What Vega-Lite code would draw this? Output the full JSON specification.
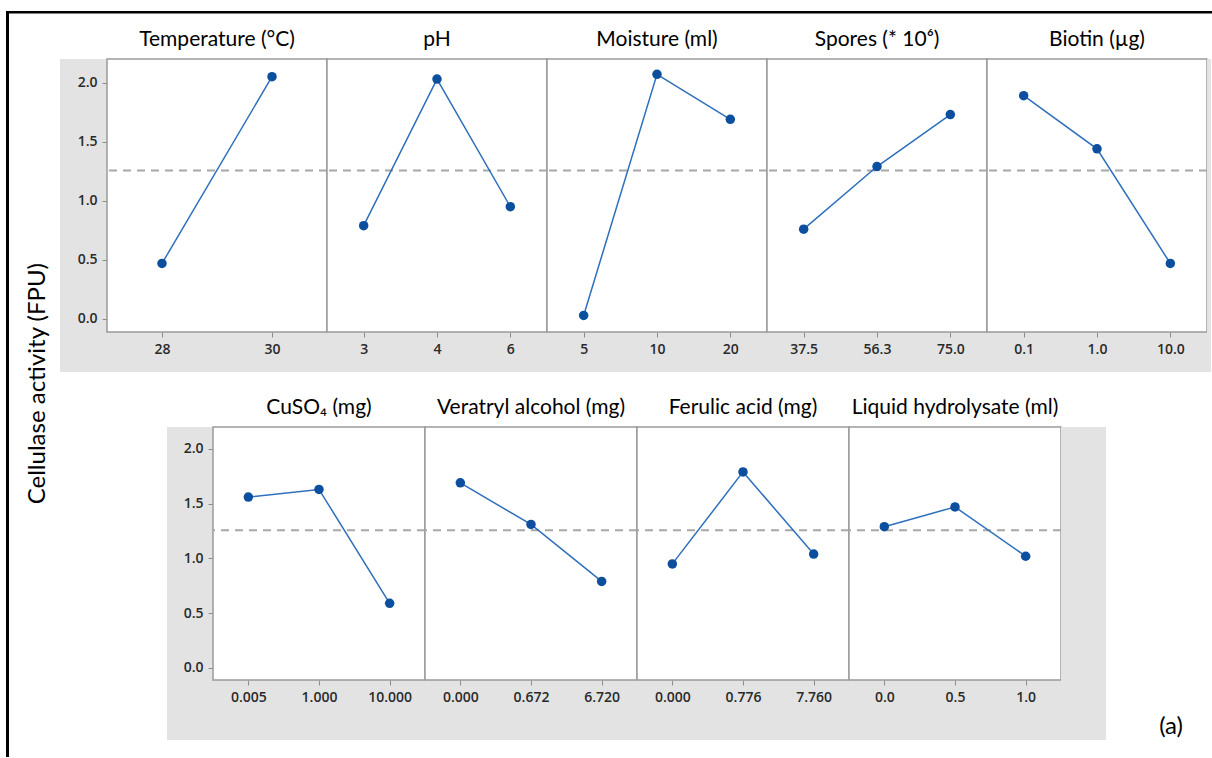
{
  "$schema": "https://vega.github.io/schema/vega-lite/v6.json",
  "background": "white",
  "padding": {"left": 6, "top": 11, "right": 0, "bottom": 0},
  "spacing": 0,
  "datasets": {
    "blank": [{}],
    "mean": [{"mean": 1.257}],
    "tag": [{"label": "(a)"}],
    "effects": [
      {"factor": "Temperature", "level": "28", "value": 0.47},
      {"factor": "Temperature", "level": "30", "value": 2.05},
      {"factor": "pH", "level": "3", "value": 0.79},
      {"factor": "pH", "level": "4", "value": 2.03},
      {"factor": "pH", "level": "6", "value": 0.95},
      {"factor": "Moisture", "level": "5", "value": 0.03},
      {"factor": "Moisture", "level": "10", "value": 2.07},
      {"factor": "Moisture", "level": "20", "value": 1.69},
      {"factor": "Spores", "level": "37.5", "value": 0.76},
      {"factor": "Spores", "level": "56.3", "value": 1.29},
      {"factor": "Spores", "level": "75.0", "value": 1.73},
      {"factor": "Biotin", "level": "0.1", "value": 1.89},
      {"factor": "Biotin", "level": "1.0", "value": 1.44},
      {"factor": "Biotin", "level": "10.0", "value": 0.47},
      {"factor": "CuSO4", "level": "0.005", "value": 1.56},
      {"factor": "CuSO4", "level": "1.000", "value": 1.63},
      {"factor": "CuSO4", "level": "10.000", "value": 0.59},
      {"factor": "Veratryl", "level": "0.000", "value": 1.69},
      {"factor": "Veratryl", "level": "0.672", "value": 1.31},
      {"factor": "Veratryl", "level": "6.720", "value": 0.79},
      {"factor": "Ferulic", "level": "0.000", "value": 0.95},
      {"factor": "Ferulic", "level": "0.776", "value": 1.79},
      {"factor": "Ferulic", "level": "7.760", "value": 1.04},
      {"factor": "Liquid", "level": "0.0", "value": 1.29},
      {"factor": "Liquid", "level": "0.5", "value": 1.47},
      {"factor": "Liquid", "level": "1.0", "value": 1.02}
    ]
  },
  "hconcat": [
    {"width": 3, "height": 746, "data": {"name": "blank"}, "mark": {"type": "rect", "fill": "black"}, "encoding": {}},
    {
      "spacing": 15,
      "vconcat": [
        {"width": 1203, "height": 2.5, "data": {"name": "blank"}, "mark": {"type": "rect", "fill": "black"}, "encoding": {}},
        {
          "spacing": 0,
          "hconcat": [
            {"width": 16, "height": 10, "data": {"name": "blank"}, "mark": {"type": "rect", "opacity": 0}, "encoding": {}},
            {
              "title": {"text": "Cellulase activity (FPU)", "orient": "left", "anchor": "middle", "fontSize": 24, "font": "Lato", "fontWeight": "normal", "color": "black", "offset": 10, "dx": 1},
              "spacing": 25,
              "vconcat": [
                {
                  "bounds": "flush",
                  "spacing": 0,
                  "hconcat": [
                    {"width": 47, "height": 313, "data": {"name": "blank"}, "mark": {"type": "rect", "fill": "#e3e3e3"}, "encoding": {}},
                    {
                      "width": 220, "height": 313,
                      "view": {"fill": "#e3e3e3", "stroke": null},
                      "title": {"text": "Temperature (°C)"},
                      "layer": [
                        {"data": {"name": "blank"}, "mark": {"type": "rect", "fill": "white", "stroke": "#9a9a9a", "strokeWidth": 1.5},
                         "encoding": {"y": {"datum": -0.11, "type": "quantitative", "scale": {"domain": [-0.4485, 2.2], "nice": false, "zero": false}, "axis": {"title": null, "values": [0, 0.5, 1, 1.5, 2], "format": ".1f", "tickSize": 5, "labelPadding": 5}}, "y2": {"datum": 2.2}}},
                        {"data": {"name": "mean"}, "mark": {"type": "rule", "color": "#a8a8a8", "strokeWidth": 2, "strokeDash": [8, 6]},
                         "encoding": {"y": {"field": "mean", "type": "quantitative", "scale": {"domain": [-0.4485, 2.2], "nice": false, "zero": false}, "axis": {"title": null, "values": [0, 0.5, 1, 1.5, 2], "format": ".1f", "tickSize": 5, "labelPadding": 5}}}},
                        {"data": {"name": "effects"}, "transform": [{"filter": "datum.factor === 'Temperature'"}],
                         "mark": {"type": "line", "color": "#2d6fbd", "strokeWidth": 1.5, "point": {"filled": true, "size": 90, "color": "#0b4f9e"}},
                         "encoding": {
                           "x": {"field": "level", "type": "ordinal", "sort": null, "scale": {"type": "point", "padding": 0.5}, "axis": {"title": null, "labelAngle": 0, "offset": -40, "tickSize": 5, "labelPadding": 5}},
                           "y": {"field": "value", "type": "quantitative", "scale": {"domain": [-0.4485, 2.2], "nice": false, "zero": false}, "axis": {"title": null, "values": [0, 0.5, 1, 1.5, 2], "format": ".1f", "tickSize": 5, "labelPadding": 5}}}}
                      ]
                    },
                    {
                      "width": 220, "height": 313,
                      "view": {"fill": "#e3e3e3", "stroke": null},
                      "title": {"text": "pH"},
                      "layer": [
                        {"data": {"name": "blank"}, "mark": {"type": "rect", "fill": "white", "stroke": "#9a9a9a", "strokeWidth": 1.5},
                         "encoding": {"y": {"datum": -0.11, "type": "quantitative", "scale": {"domain": [-0.4485, 2.2], "nice": false, "zero": false}, "axis": null}, "y2": {"datum": 2.2}}},
                        {"data": {"name": "mean"}, "mark": {"type": "rule", "color": "#a8a8a8", "strokeWidth": 2, "strokeDash": [8, 6]},
                         "encoding": {"y": {"field": "mean", "type": "quantitative", "scale": {"domain": [-0.4485, 2.2], "nice": false, "zero": false}, "axis": null}}},
                        {"data": {"name": "effects"}, "transform": [{"filter": "datum.factor === 'pH'"}],
                         "mark": {"type": "line", "color": "#2d6fbd", "strokeWidth": 1.5, "point": {"filled": true, "size": 90, "color": "#0b4f9e"}},
                         "encoding": {
                           "x": {"field": "level", "type": "ordinal", "sort": null, "scale": {"type": "point", "padding": 0.5}, "axis": {"title": null, "labelAngle": 0, "offset": -40, "tickSize": 5, "labelPadding": 5}},
                           "y": {"field": "value", "type": "quantitative", "scale": {"domain": [-0.4485, 2.2], "nice": false, "zero": false}, "axis": null}}}
                      ]
                    },
                    {
                      "width": 220, "height": 313,
                      "view": {"fill": "#e3e3e3", "stroke": null},
                      "title": {"text": "Moisture (ml)"},
                      "layer": [
                        {"data": {"name": "blank"}, "mark": {"type": "rect", "fill": "white", "stroke": "#9a9a9a", "strokeWidth": 1.5},
                         "encoding": {"y": {"datum": -0.11, "type": "quantitative", "scale": {"domain": [-0.4485, 2.2], "nice": false, "zero": false}, "axis": null}, "y2": {"datum": 2.2}}},
                        {"data": {"name": "mean"}, "mark": {"type": "rule", "color": "#a8a8a8", "strokeWidth": 2, "strokeDash": [8, 6]},
                         "encoding": {"y": {"field": "mean", "type": "quantitative", "scale": {"domain": [-0.4485, 2.2], "nice": false, "zero": false}, "axis": null}}},
                        {"data": {"name": "effects"}, "transform": [{"filter": "datum.factor === 'Moisture'"}],
                         "mark": {"type": "line", "color": "#2d6fbd", "strokeWidth": 1.5, "point": {"filled": true, "size": 90, "color": "#0b4f9e"}},
                         "encoding": {
                           "x": {"field": "level", "type": "ordinal", "sort": null, "scale": {"type": "point", "padding": 0.5}, "axis": {"title": null, "labelAngle": 0, "offset": -40, "tickSize": 5, "labelPadding": 5}},
                           "y": {"field": "value", "type": "quantitative", "scale": {"domain": [-0.4485, 2.2], "nice": false, "zero": false}, "axis": null}}}
                      ]
                    },
                    {
                      "width": 220, "height": 313,
                      "view": {"fill": "#e3e3e3", "stroke": null},
                      "title": {"text": "Spores (* 10⁶)"},
                      "layer": [
                        {"data": {"name": "blank"}, "mark": {"type": "rect", "fill": "white", "stroke": "#9a9a9a", "strokeWidth": 1.5},
                         "encoding": {"y": {"datum": -0.11, "type": "quantitative", "scale": {"domain": [-0.4485, 2.2], "nice": false, "zero": false}, "axis": null}, "y2": {"datum": 2.2}}},
                        {"data": {"name": "mean"}, "mark": {"type": "rule", "color": "#a8a8a8", "strokeWidth": 2, "strokeDash": [8, 6]},
                         "encoding": {"y": {"field": "mean", "type": "quantitative", "scale": {"domain": [-0.4485, 2.2], "nice": false, "zero": false}, "axis": null}}},
                        {"data": {"name": "effects"}, "transform": [{"filter": "datum.factor === 'Spores'"}],
                         "mark": {"type": "line", "color": "#2d6fbd", "strokeWidth": 1.5, "point": {"filled": true, "size": 90, "color": "#0b4f9e"}},
                         "encoding": {
                           "x": {"field": "level", "type": "ordinal", "sort": null, "scale": {"type": "point", "padding": 0.5}, "axis": {"title": null, "labelAngle": 0, "offset": -40, "tickSize": 5, "labelPadding": 5}},
                           "y": {"field": "value", "type": "quantitative", "scale": {"domain": [-0.4485, 2.2], "nice": false, "zero": false}, "axis": null}}}
                      ]
                    },
                    {
                      "width": 220, "height": 313,
                      "view": {"fill": "#e3e3e3", "stroke": null},
                      "title": {"text": "Biotin (µg)"},
                      "layer": [
                        {"data": {"name": "blank"}, "mark": {"type": "rect", "fill": "white", "stroke": "#9a9a9a", "strokeWidth": 1.5},
                         "encoding": {"y": {"datum": -0.11, "type": "quantitative", "scale": {"domain": [-0.4485, 2.2], "nice": false, "zero": false}, "axis": null}, "y2": {"datum": 2.2}}},
                        {"data": {"name": "mean"}, "mark": {"type": "rule", "color": "#a8a8a8", "strokeWidth": 2, "strokeDash": [8, 6]},
                         "encoding": {"y": {"field": "mean", "type": "quantitative", "scale": {"domain": [-0.4485, 2.2], "nice": false, "zero": false}, "axis": null}}},
                        {"data": {"name": "effects"}, "transform": [{"filter": "datum.factor === 'Biotin'"}],
                         "mark": {"type": "line", "color": "#2d6fbd", "strokeWidth": 1.5, "point": {"filled": true, "size": 90, "color": "#0b4f9e"}},
                         "encoding": {
                           "x": {"field": "level", "type": "ordinal", "sort": null, "scale": {"type": "point", "padding": 0.5}, "axis": {"title": null, "labelAngle": 0, "offset": -40, "tickSize": 5, "labelPadding": 5}},
                           "y": {"field": "value", "type": "quantitative", "scale": {"domain": [-0.4485, 2.2], "nice": false, "zero": false}, "axis": null}}}
                      ]
                    },
                    {"width": 4, "height": 313, "data": {"name": "blank"}, "mark": {"type": "rect", "fill": "#e3e3e3"}, "encoding": {}}
                  ]
                },
                {
                  "bounds": "flush",
                  "spacing": 0,
                  "hconcat": [
                    {"width": 107, "height": 313, "data": {"name": "blank"}, "mark": {"type": "rect", "opacity": 0}, "encoding": {}},
                    {"width": 46, "height": 313, "data": {"name": "blank"}, "mark": {"type": "rect", "fill": "#e3e3e3"}, "encoding": {}},
                    {
                      "width": 212, "height": 313,
                      "view": {"fill": "#e3e3e3", "stroke": null},
                      "title": {"text": "CuSO₄ (mg)"},
                      "layer": [
                        {"data": {"name": "blank"}, "mark": {"type": "rect", "fill": "white", "stroke": "#9a9a9a", "strokeWidth": 1.5},
                         "encoding": {"y": {"datum": -0.11, "type": "quantitative", "scale": {"domain": [-0.658, 2.2], "nice": false, "zero": false}, "axis": {"title": null, "values": [0, 0.5, 1, 1.5, 2], "format": ".1f", "tickSize": 5, "labelPadding": 5}}, "y2": {"datum": 2.2}}},
                        {"data": {"name": "mean"}, "mark": {"type": "rule", "color": "#a8a8a8", "strokeWidth": 2, "strokeDash": [8, 6]},
                         "encoding": {"y": {"field": "mean", "type": "quantitative", "scale": {"domain": [-0.658, 2.2], "nice": false, "zero": false}, "axis": {"title": null, "values": [0, 0.5, 1, 1.5, 2], "format": ".1f", "tickSize": 5, "labelPadding": 5}}}},
                        {"data": {"name": "effects"}, "transform": [{"filter": "datum.factor === 'CuSO4'"}],
                         "mark": {"type": "line", "color": "#2d6fbd", "strokeWidth": 1.5, "point": {"filled": true, "size": 90, "color": "#0b4f9e"}},
                         "encoding": {
                           "x": {"field": "level", "type": "ordinal", "sort": null, "scale": {"type": "point", "padding": 0.5}, "axis": {"title": null, "labelAngle": 0, "offset": -60, "tickSize": 5, "labelPadding": 5}},
                           "y": {"field": "value", "type": "quantitative", "scale": {"domain": [-0.658, 2.2], "nice": false, "zero": false}, "axis": {"title": null, "values": [0, 0.5, 1, 1.5, 2], "format": ".1f", "tickSize": 5, "labelPadding": 5}}}}
                      ]
                    },
                    {
                      "width": 212, "height": 313,
                      "view": {"fill": "#e3e3e3", "stroke": null},
                      "title": {"text": "Veratryl alcohol (mg)"},
                      "layer": [
                        {"data": {"name": "blank"}, "mark": {"type": "rect", "fill": "white", "stroke": "#9a9a9a", "strokeWidth": 1.5},
                         "encoding": {"y": {"datum": -0.11, "type": "quantitative", "scale": {"domain": [-0.658, 2.2], "nice": false, "zero": false}, "axis": null}, "y2": {"datum": 2.2}}},
                        {"data": {"name": "mean"}, "mark": {"type": "rule", "color": "#a8a8a8", "strokeWidth": 2, "strokeDash": [8, 6]},
                         "encoding": {"y": {"field": "mean", "type": "quantitative", "scale": {"domain": [-0.658, 2.2], "nice": false, "zero": false}, "axis": null}}},
                        {"data": {"name": "effects"}, "transform": [{"filter": "datum.factor === 'Veratryl'"}],
                         "mark": {"type": "line", "color": "#2d6fbd", "strokeWidth": 1.5, "point": {"filled": true, "size": 90, "color": "#0b4f9e"}},
                         "encoding": {
                           "x": {"field": "level", "type": "ordinal", "sort": null, "scale": {"type": "point", "padding": 0.5}, "axis": {"title": null, "labelAngle": 0, "offset": -60, "tickSize": 5, "labelPadding": 5}},
                           "y": {"field": "value", "type": "quantitative", "scale": {"domain": [-0.658, 2.2], "nice": false, "zero": false}, "axis": null}}}
                      ]
                    },
                    {
                      "width": 212, "height": 313,
                      "view": {"fill": "#e3e3e3", "stroke": null},
                      "title": {"text": "Ferulic acid (mg)"},
                      "layer": [
                        {"data": {"name": "blank"}, "mark": {"type": "rect", "fill": "white", "stroke": "#9a9a9a", "strokeWidth": 1.5},
                         "encoding": {"y": {"datum": -0.11, "type": "quantitative", "scale": {"domain": [-0.658, 2.2], "nice": false, "zero": false}, "axis": null}, "y2": {"datum": 2.2}}},
                        {"data": {"name": "mean"}, "mark": {"type": "rule", "color": "#a8a8a8", "strokeWidth": 2, "strokeDash": [8, 6]},
                         "encoding": {"y": {"field": "mean", "type": "quantitative", "scale": {"domain": [-0.658, 2.2], "nice": false, "zero": false}, "axis": null}}},
                        {"data": {"name": "effects"}, "transform": [{"filter": "datum.factor === 'Ferulic'"}],
                         "mark": {"type": "line", "color": "#2d6fbd", "strokeWidth": 1.5, "point": {"filled": true, "size": 90, "color": "#0b4f9e"}},
                         "encoding": {
                           "x": {"field": "level", "type": "ordinal", "sort": null, "scale": {"type": "point", "padding": 0.5}, "axis": {"title": null, "labelAngle": 0, "offset": -60, "tickSize": 5, "labelPadding": 5}},
                           "y": {"field": "value", "type": "quantitative", "scale": {"domain": [-0.658, 2.2], "nice": false, "zero": false}, "axis": null}}}
                      ]
                    },
                    {
                      "width": 212, "height": 313,
                      "view": {"fill": "#e3e3e3", "stroke": null},
                      "title": {"text": "Liquid hydrolysate (ml)"},
                      "layer": [
                        {"data": {"name": "blank"}, "mark": {"type": "rect", "fill": "white", "stroke": "#9a9a9a", "strokeWidth": 1.5},
                         "encoding": {"y": {"datum": -0.11, "type": "quantitative", "scale": {"domain": [-0.658, 2.2], "nice": false, "zero": false}, "axis": null}, "y2": {"datum": 2.2}}},
                        {"data": {"name": "mean"}, "mark": {"type": "rule", "color": "#a8a8a8", "strokeWidth": 2, "strokeDash": [8, 6]},
                         "encoding": {"y": {"field": "mean", "type": "quantitative", "scale": {"domain": [-0.658, 2.2], "nice": false, "zero": false}, "axis": null}}},
                        {"data": {"name": "effects"}, "transform": [{"filter": "datum.factor === 'Liquid'"}],
                         "mark": {"type": "line", "color": "#2d6fbd", "strokeWidth": 1.5, "point": {"filled": true, "size": 90, "color": "#0b4f9e"}},
                         "encoding": {
                           "x": {"field": "level", "type": "ordinal", "sort": null, "scale": {"type": "point", "padding": 0.5}, "axis": {"title": null, "labelAngle": 0, "offset": -60, "tickSize": 5, "labelPadding": 5}},
                           "y": {"field": "value", "type": "quantitative", "scale": {"domain": [-0.658, 2.2], "nice": false, "zero": false}, "axis": null}}}
                      ]
                    },
                    {"width": 45, "height": 313, "data": {"name": "blank"}, "mark": {"type": "rect", "fill": "#e3e3e3"}, "encoding": {}},
                    {
                      "width": 105, "height": 313,
                      "data": {"name": "tag"},
                      "mark": {"type": "text", "font": "Lato", "fontSize": 24, "color": "black", "align": "center", "baseline": "middle"},
                      "encoding": {
                        "text": {"field": "label"},
                        "x": {"datum": 0.62, "type": "quantitative", "scale": {"domain": [0, 1]}, "axis": null},
                        "y": {"datum": 0.04, "type": "quantitative", "scale": {"domain": [0, 1]}, "axis": null}
                      }
                    }
                  ]
                }
              ]
            }
          ]
        }
      ]
    }
  ],
  "config": {
    "view": {"stroke": null},
    "concat": {"spacing": 0},
    "axis": {"labelFont": "Open Sans", "labelFontSize": 14, "labelFontWeight": 600, "labelColor": "#2a2a2a", "tickColor": "#8c8c8c", "tickWidth": 1, "domain": false, "grid": false},
    "title": {"font": "Lato", "fontSize": 21, "fontWeight": "normal", "color": "#000000", "offset": 8, "anchor": "middle"}
  }
}
